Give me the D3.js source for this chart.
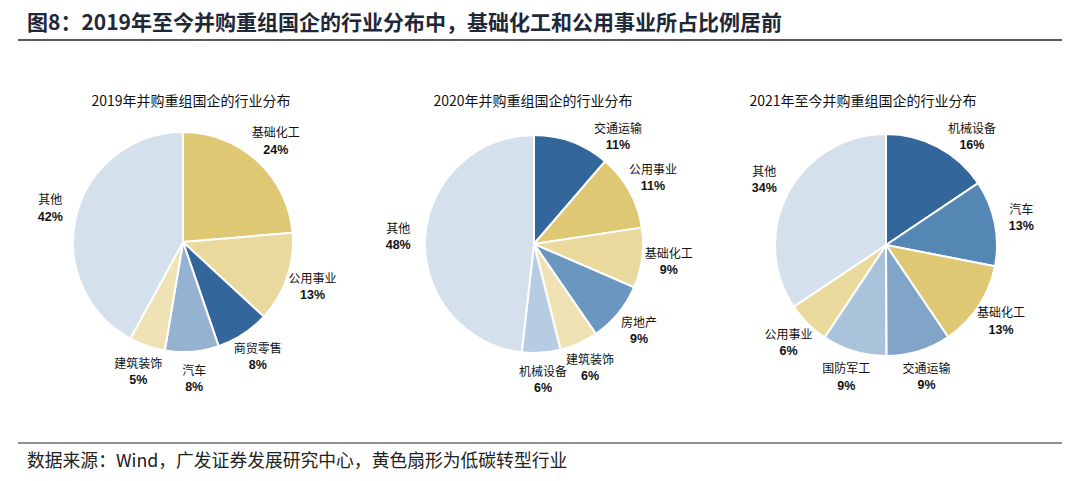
<!DOCTYPE html>
<html>
<head>
<meta charset="utf-8">
<script src="https://cdn.jsdelivr.net/npm/d3@7"></script>
<style>
  body { margin: 0; background: #fff; }
  svg { display: block; }
</style>
</head>
<body>
<div id="chart"></div>
<script>
// chart data (clockwise from 12 o'clock)
var cats2019 = ["基础化工", "公用事业", "商贸零售", "汽车", "建筑装饰", "其他"];
var vals2019 = [23.7, 13.2, 7.9, 7.9, 5.3, 42.1];
var cols2019 = ["#DFC873", "#E9D99C", "#33679C", "#95B3D1", "#EFE3B6", "#D4E0EC"];

var cats2020 = ["交通运输", "公用事业", "基础化工", "房地产", "建筑装饰", "机械设备", "其他"];
var vals2020 = [11.3, 11.3, 8.9, 8.9, 5.7, 5.7, 48.2];
var cols2020 = ["#33679C", "#DFC873", "#E9D99C", "#6A97C0", "#EFE3B6", "#B6CCE2", "#D4E0EC"];

var cats2021 = ["机械设备", "汽车", "基础化工", "交通运输", "国防军工", "公用事业", "其他"];
var vals2021 = [15.6, 12.5, 12.5, 9.4, 9.4, 6.3, 34.4];
var cols2021 = ["#33679C", "#5587B5", "#DFC873", "#80A5C9", "#A9C3DB", "#E9D99C", "#D4E0EC"];

var titleText = "图8：2019年至今并购重组国企的行业分布中，基础化工和公用事业所占比例居前";
var sourceText = "数据来源：Wind，广发证券发展研究中心，黄色扇形为低碳转型行业";

var width = 1080, height = 481;
var cjk = "'Noto Sans CJK SC', 'Liberation Sans', sans-serif";
var latin = "'Liberation Sans', Arial, sans-serif";

var svg = d3.select("#chart").append("svg")
    .attr("width", width)
    .attr("height", height);

// header title and rule
svg.append("text")
    .attr("x", 27)
    .attr("y", 30)
    .attr("font-family", cjk)
    .attr("font-size", 21)
    .attr("font-weight", "bold")
    .attr("fill", "#1f2838")
    .text(titleText);

svg.append("line")
    .attr("x1", 18).attr("x2", 1062)
    .attr("y1", 40).attr("y2", 40)
    .attr("stroke", "#222").attr("stroke-width", 1.5);

// footer rule and source
svg.append("line")
    .attr("x1", 18).attr("x2", 1062)
    .attr("y1", 443).attr("y2", 443)
    .attr("stroke", "#222").attr("stroke-width", 1.2);

svg.append("text")
    .attr("x", 27)
    .attr("y", 467)
    .attr("font-family", cjk)
    .attr("font-size", 17.8)
    .attr("fill", "#222")
    .text(sourceText);

// labels may not ride up into the subtitle
var labelTop = 137;

/**
 * draws one pie with its subtitle and outside labels
 */
function drawPie(cfg) {
    var g = svg.append("g")
        .attr("transform", "translate(" + cfg.cx + "," + cfg.cy + ")");

    // subtitle above the pie
    svg.append("text")
        .attr("x", cfg.tx)
        .attr("y", 106)
        .attr("text-anchor", "middle")
        .attr("font-family", cjk)
        .attr("font-size", 14)
        .attr("fill", "#111")
        .text(cfg.title);

    var rows = cfg.cats.map(function (c, i) {
        return { name: c, value: cfg.vals[i], color: cfg.cols[i] };
    });

    var pie = d3.pie()
        .sort(null)
        .value(function (d) { return d.value; });

    var arc = d3.arc().innerRadius(0).outerRadius(cfg.r);
    var labelR = cfg.r + 27;
    var labelArc = d3.arc().innerRadius(labelR).outerRadius(labelR);

    var arcs = pie(rows);

    g.selectAll("path")
        .data(arcs)
        .enter().append("path")
        .attr("d", arc)
        .attr("fill", function (d) { return d.data.color; })
        .attr("stroke", "#fff")
        .attr("stroke-width", 2)
        .attr("stroke-linejoin", "round");

    // label position: centroid on the outer ring, slid along it if it would hit the subtitle
    function labelPos(d) {
        var p = labelArc.centroid(d);
        var minY = labelTop - cfg.cy;
        if (p[1] < minY) {
            var side = p[0] < 0 ? -1 : 1;
            p = [side * Math.sqrt(labelR * labelR - minY * minY), minY];
        }
        return p;
    }

    var lab = g.selectAll("g.lab")
        .data(arcs)
        .enter().append("g")
        .attr("class", "lab")
        .attr("transform", function (d) {
            return "translate(" + labelPos(d) + ")";
        });

    // category name
    lab.append("text")
        .attr("y", -8)
        .attr("dy", "0.35em")
        .attr("text-anchor", "middle")
        .attr("font-family", cjk)
        .attr("font-size", 12)
        .attr("fill", "#111")
        .text(function (d) { return d.data.name; });

    // percentage
    lab.append("text")
        .attr("y", 8)
        .attr("dy", "0.35em")
        .attr("text-anchor", "middle")
        .attr("font-family", latin)
        .attr("font-size", 12.5)
        .attr("font-weight", "bold")
        .attr("fill", "#111")
        .text(function (d) { return Math.round(d.data.value) + "%"; });
}

drawPie({ cats: cats2019, vals: vals2019, cols: cols2019, cx: 183, cy: 242, r: 110,
          tx: 191, title: "2019年并购重组国企的行业分布" });
drawPie({ cats: cats2020, vals: vals2020, cols: cols2020, cx: 534, cy: 244, r: 109,
          tx: 533, title: "2020年并购重组国企的行业分布" });
drawPie({ cats: cats2021, vals: vals2021, cols: cols2021, cx: 886, cy: 245, r: 111,
          tx: 863, title: "2021年至今并购重组国企的行业分布" });
</script>
</body>
</html>
